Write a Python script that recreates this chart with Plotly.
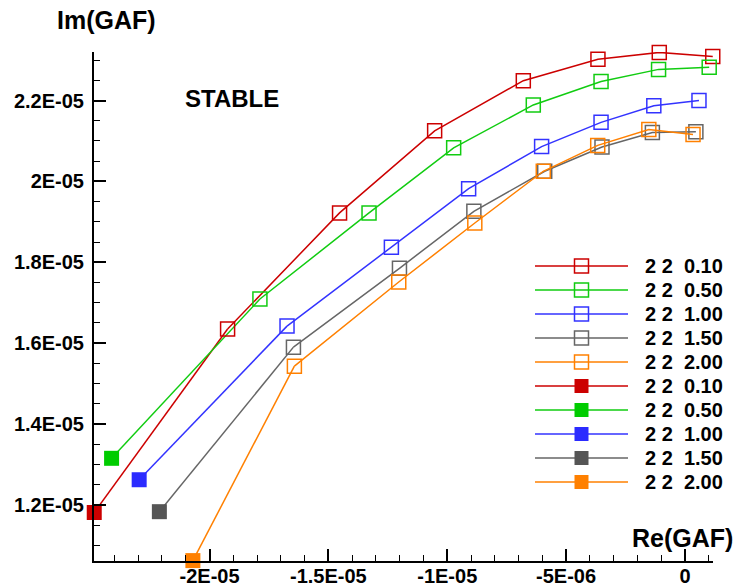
import plotly.graph_objects as go

# ---------------- data ----------------
labels = ["2 2\u00a0 0.10", "2 2\u00a0 0.50", "2 2\u00a0 1.00", "2 2\u00a0 1.50", "2 2\u00a0 2.00"]
line_colors = ["#cc0000", "#11cc11", "#3333ff", "#666666", "#ff8000"]
fill_colors = ["#cc0000", "#00cc00", "#2b2bff", "#555555", "#ff8000"]

# start points (filled squares)
start_re = [-24.85e-6, -24.12e-6, -22.96e-6, -22.11e-6, -20.70e-6]
start_im = [11.81e-6, 13.15e-6, 12.62e-6, 11.83e-6, 10.62e-6]

# hollow-square series
re_010 = [-19.24e-6, -14.53e-6, -10.53e-6, -6.80e-6, -3.66e-6, -1.08e-6, 1.17e-6]
im_010 = [16.35e-6, 19.22e-6, 21.25e-6, 22.49e-6, 23.02e-6, 23.19e-6, 23.09e-6]
re_050 = [-17.88e-6, -13.29e-6, -9.73e-6, -6.38e-6, -3.53e-6, -1.11e-6, 1.02e-6]
im_050 = [17.09e-6, 19.22e-6, 20.83e-6, 21.89e-6, 22.47e-6, 22.77e-6, 22.82e-6]
re_100 = [-16.74e-6, -12.35e-6, -9.10e-6, -6.03e-6, -3.53e-6, -1.31e-6, 0.59e-6]
im_100 = [16.42e-6, 18.37e-6, 19.82e-6, 20.86e-6, 21.46e-6, 21.87e-6, 22.00e-6]
re_150 = [-16.47e-6, -12.01e-6, -8.88e-6, -5.90e-6, -3.49e-6, -1.37e-6, 0.46e-6]
im_150 = [15.90e-6, 17.85e-6, 19.26e-6, 20.25e-6, 20.85e-6, 21.21e-6, 21.23e-6]
re_200 = [-16.43e-6, -12.04e-6, -8.84e-6, -5.96e-6, -3.67e-6, -1.52e-6, 0.34e-6]
im_200 = [15.43e-6, 17.51e-6, 18.97e-6, 20.25e-6, 20.89e-6, 21.28e-6, 21.16e-6]

series_re = [re_010, re_050, re_100, re_150, re_200]
series_im = [im_010, im_050, im_100, im_150, im_200]

x_tickvals = [-2e-5, -1.5e-5, -1e-5, -5e-6, 0]
x_ticktext = ["-2E-05", "-1.5E-05", "-1E-05", "-5E-06", "0"]
y_tickvals = [1.2e-5, 1.4e-5, 1.6e-5, 1.8e-5, 2.0e-5, 2.2e-5]
y_ticktext = ["1.2E-05", "1.4E-05", "1.6E-05", "1.8E-05", "2E-05", "2.2E-05"]

FONT = "Liberation Sans"

fig = go.Figure()

# connector lines from filled start point to first hollow point
for i in range(5):
    fig.add_trace(go.Scatter(
        x=[start_re[i], series_re[i][0]], y=[start_im[i], series_im[i][0]],
        mode="lines", line=dict(color=line_colors[i], width=1.5),
        showlegend=False, hoverinfo="skip", cliponaxis=False))

# hollow series
for i in range(5):
    fig.add_trace(go.Scatter(
        x=series_re[i], y=series_im[i], name=labels[i],
        mode="lines+markers", line=dict(color=line_colors[i], width=1.5),
        marker=dict(symbol="square-open", size=14, color=line_colors[i],
                    line=dict(width=1.5, color=line_colors[i])),
        showlegend=False, cliponaxis=False))

# filled start points
for i in range(5):
    fig.add_trace(go.Scatter(
        x=[start_re[i]], y=[start_im[i]], name=labels[i],
        mode="markers",
        marker=dict(symbol="square", size=15, color=fill_colors[i]),
        showlegend=False, cliponaxis=False))

# ---- legend drawn on its own hidden axes (rows 0..9) ----
legend_entries = []
for i in range(5):
    legend_entries.append((labels[i], line_colors[i], "square-open", line_colors[i]))
for i in range(5):
    legend_entries.append((labels[i], line_colors[i], "square", fill_colors[i]))

annotations = []
for row, (lab, lc, sym, mc) in enumerate(legend_entries):
    fig.add_trace(go.Scatter(
        x=[0, 1], y=[row, row], mode="lines", line=dict(color=lc, width=1.5),
        xaxis="x2", yaxis="y2", showlegend=False, hoverinfo="skip", cliponaxis=False))
    if sym == "square-open":
        mk = dict(symbol=sym, size=14, color=mc, line=dict(width=1.5, color=mc))
    else:
        mk = dict(symbol=sym, size=14, color=mc)
    fig.add_trace(go.Scatter(
        x=[0.5], y=[row], mode="markers", marker=mk,
        xaxis="x2", yaxis="y2", showlegend=False, hoverinfo="skip", cliponaxis=False))
    annotations.append(dict(
        text=lab, xref="x2", yref="y2", x=1.165, y=row, xanchor="left",
        yanchor="middle", showarrow=False,
        font=dict(family=FONT, size=20, color="black", weight="bold")))

axis_font = dict(family=FONT, size=20, color="black", weight="bold")

annotations += [
    dict(text="Im(GAF)", xref="paper", yref="paper", x=(55 - 94) / 619, y=(561 - 20) / 509,
         xanchor="left", yanchor="middle", showarrow=False,
         font=dict(family=FONT, size=25, color="black", weight="bold")),
    dict(text="Re(GAF)", xref="paper", yref="paper", x=(735 - 94) / 619, y=(561 - 538) / 509,
         xanchor="right", yanchor="middle", showarrow=False,
         font=dict(family=FONT, size=25, color="black", weight="bold")),
    dict(text="STABLE", xref="paper", yref="paper", x=(183 - 94) / 619, y=(561 - 98) / 509,
         xanchor="left", yanchor="middle", showarrow=False,
         font=dict(family=FONT, size=24, color="black", weight="bold")),
]

# legend axes: 93 px per x unit starting at pixel 535; 24 px per row starting at pixel 266
LX0, LXW = 535, 93
LY0, LYH = 266, 24
lx_range = [-0.2, 1.9]
ly_range = [9.5, -0.5]
x2_dom = [(LX0 + LXW * lx_range[0] - 94) / 619, (LX0 + LXW * lx_range[1] - 94) / 619]
y2_dom = [(561 - (LY0 + LYH * ly_range[0])) / 509, (561 - (LY0 + LYH * ly_range[1])) / 509]

fig.update_layout(
    width=735, height=587,
    margin=dict(l=94, r=22, t=52, b=26),
    paper_bgcolor="white", plot_bgcolor="white",
    showlegend=False,
    xaxis=dict(range=[-24.86e-6, 1.18e-6], showgrid=False, zeroline=False,
               showline=True, linecolor="black", linewidth=2,
               ticks="inside", ticklen=12, tickwidth=1.5, tickcolor="black",
               tickmode="array", tickvals=x_tickvals, ticktext=x_ticktext,
               tickfont=axis_font, automargin=False, ticklabelstandoff=-4,
               minor=dict(ticks="inside", ticklen=6, tickwidth=1, tickcolor="black",
                          tickmode="linear", tick0=0, dtick=1e-6, showgrid=False)),
    yaxis=dict(range=[10.61e-6, 23.2e-6], showgrid=False, zeroline=False,
               showline=True, linecolor="black", linewidth=2,
               ticks="inside", ticklen=12, tickwidth=1.5, tickcolor="black",
               tickmode="array", tickvals=y_tickvals, ticktext=y_ticktext,
               tickfont=axis_font, automargin=False, ticklabelstandoff=4,
               minor=dict(ticks="inside", ticklen=6, tickwidth=1, tickcolor="black",
                          tickmode="linear", tick0=0, dtick=5e-7, showgrid=False)),
    xaxis2=dict(domain=x2_dom, range=lx_range,
                visible=False, anchor="y2", fixedrange=True),
    yaxis2=dict(domain=y2_dom, range=ly_range,
                visible=False, anchor="x2", fixedrange=True),
    annotations=annotations,
)

fig.write_html("out.html")
